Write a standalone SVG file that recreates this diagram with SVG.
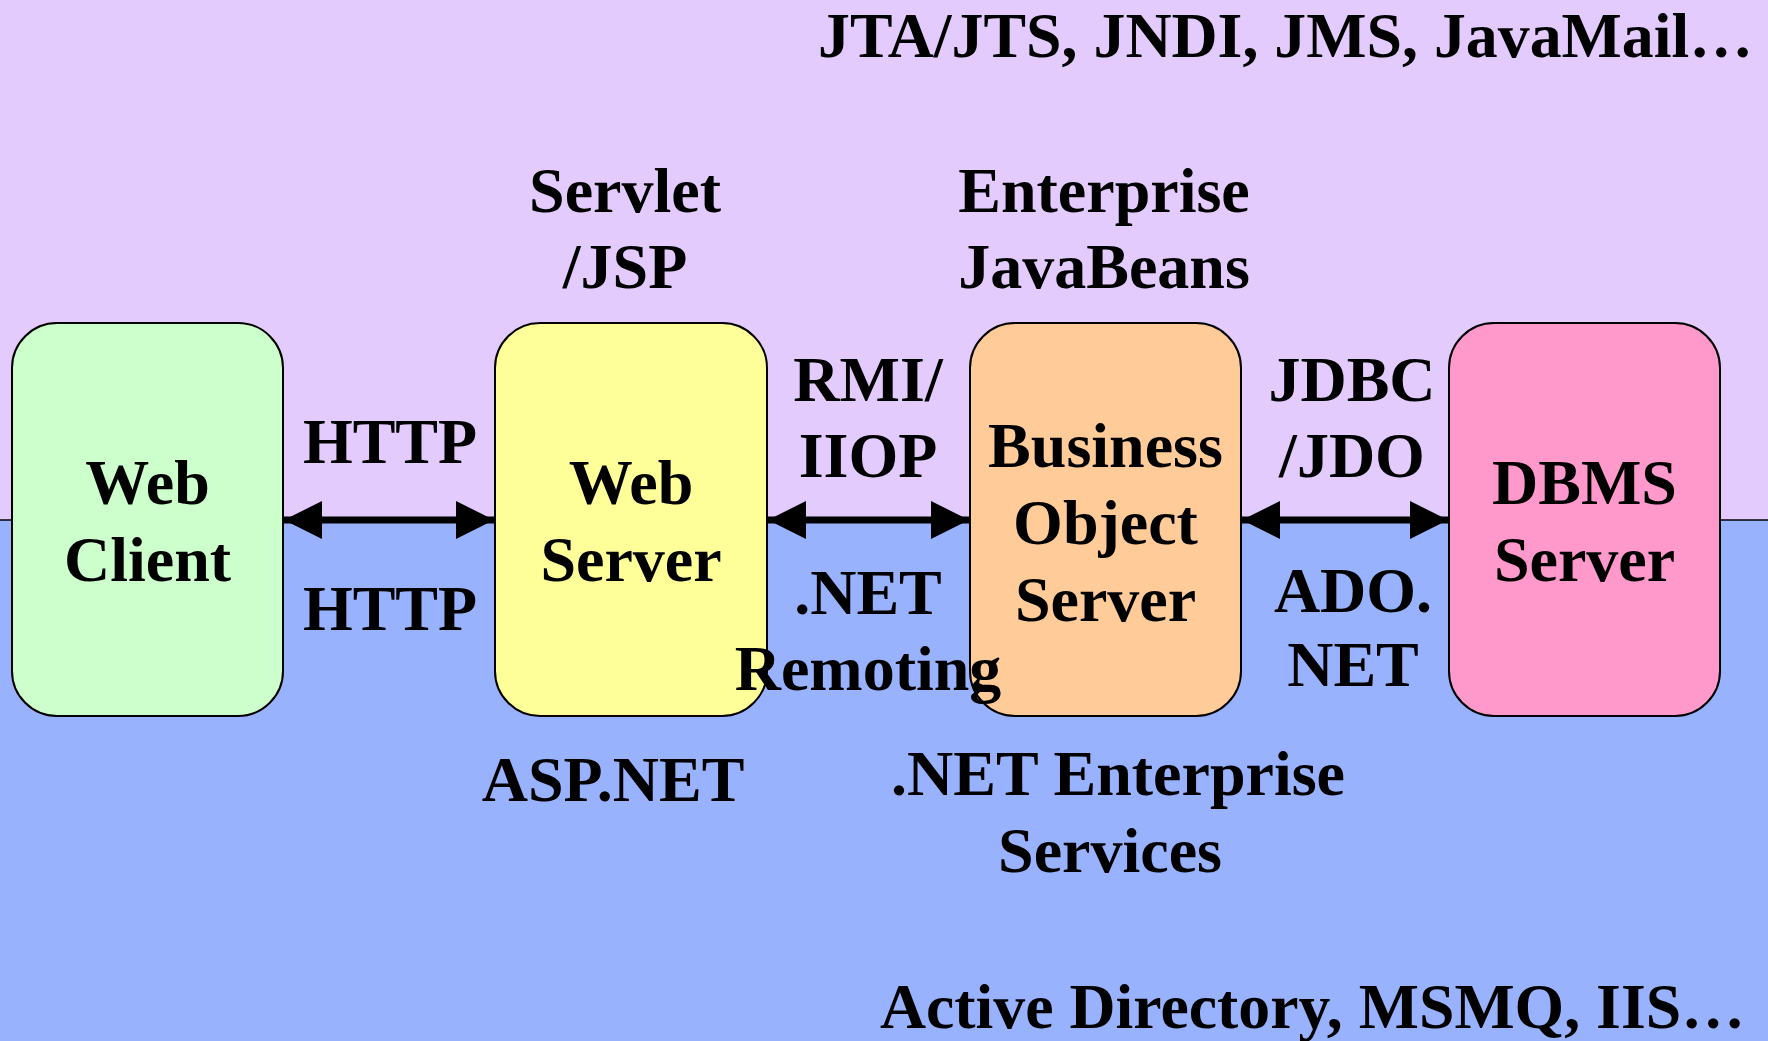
<svg xmlns="http://www.w3.org/2000/svg" width="1768" height="1041" viewBox="0 0 1768 1041">
<defs>
<style>
text{font-family:"Liberation Serif","Times New Roman",serif;font-weight:bold;font-size:64px;fill:#000}
.c{text-anchor:middle}
.box{stroke:#000;stroke-width:2}
.conn{stroke:#000;stroke-width:7;fill:none}
</style>
<marker id="ah" viewBox="0 0 38 38" refX="38" refY="19" markerWidth="38" markerHeight="38" markerUnits="userSpaceOnUse" orient="auto-start-reverse">
<polygon points="0,0 38,19 0,38" fill="#000"/>
</marker>
</defs>
<rect x="0" y="0" width="1768" height="520" fill="#E3CBFE"/>
<rect x="0" y="520" width="1768" height="521" fill="#99B2FE"/>
<line x1="0" y1="520" x2="1768" y2="520" stroke="#000" stroke-width="1.5"/>

<g id="connectors">
<line class="conn" x1="284" y1="520" x2="494" y2="520" marker-start="url(#ah)" marker-end="url(#ah)"/>
<line class="conn" x1="768" y1="520" x2="969" y2="520" marker-start="url(#ah)" marker-end="url(#ah)"/>
<line class="conn" x1="1242" y1="520" x2="1448" y2="520" marker-start="url(#ah)" marker-end="url(#ah)"/>
</g>

<g id="web-client">
<rect class="box" x="12" y="323" width="271" height="393" rx="45" fill="#CCFFCC"/>
<text class="c" x="147.5" y="504">Web</text>
<text class="c" x="147.5" y="581">Client</text>
</g>
<g id="web-server">
<rect class="box" x="495" y="323" width="272" height="393" rx="45" fill="#FFFF99"/>
<text class="c" x="631" y="504">Web</text>
<text class="c" x="631" y="581">Server</text>
</g>
<g id="business-object-server">
<rect class="box" x="970" y="323" width="271" height="393" rx="45" fill="#FFCC99"/>
<text class="c" x="1105.5" y="467">Business</text>
<text class="c" x="1105.5" y="544">Object</text>
<text class="c" x="1105.5" y="621">Server</text>
</g>
<g id="dbms-server">
<rect class="box" x="1449" y="323" width="271" height="393" rx="45" fill="#FF99CC"/>
<text class="c" x="1584.5" y="504">DBMS</text>
<text class="c" x="1584.5" y="581">Server</text>
</g>

<g id="labels">
<text class="c" x="390" y="463">HTTP</text>
<text class="c" x="390" y="630">HTTP</text>
<text class="c" x="868" y="401">RMI/</text>
<text class="c" x="868" y="477">IIOP</text>
<text class="c" x="868" y="614">.NET</text>
<text class="c" x="868" y="690">Remoting</text>
<text class="c" x="1352" y="401">JDBC</text>
<text class="c" x="1352" y="477">/JDO</text>
<text class="c" x="1353" y="612">ADO.</text>
<text class="c" x="1353" y="686">NET</text>
<text class="c" x="625" y="212">Servlet</text>
<text class="c" x="625" y="288">/JSP</text>
<text class="c" x="1104" y="212">Enterprise</text>
<text class="c" x="1104" y="288">JavaBeans</text>
<text class="c" x="613" y="801">ASP.NET</text>
<text class="c" x="1118" y="795">.NET Enterprise</text>
<text class="c" x="1110" y="872">Services</text>
<text x="818" y="57" style="font-size:63px" textLength="935" lengthAdjust="spacingAndGlyphs">JTA/JTS, JNDI, JMS, JavaMail…</text>
<text x="880" y="1028" style="font-size:64px" textLength="865" lengthAdjust="spacingAndGlyphs">Active Directory, MSMQ, IIS…</text>
</g>
</svg>
